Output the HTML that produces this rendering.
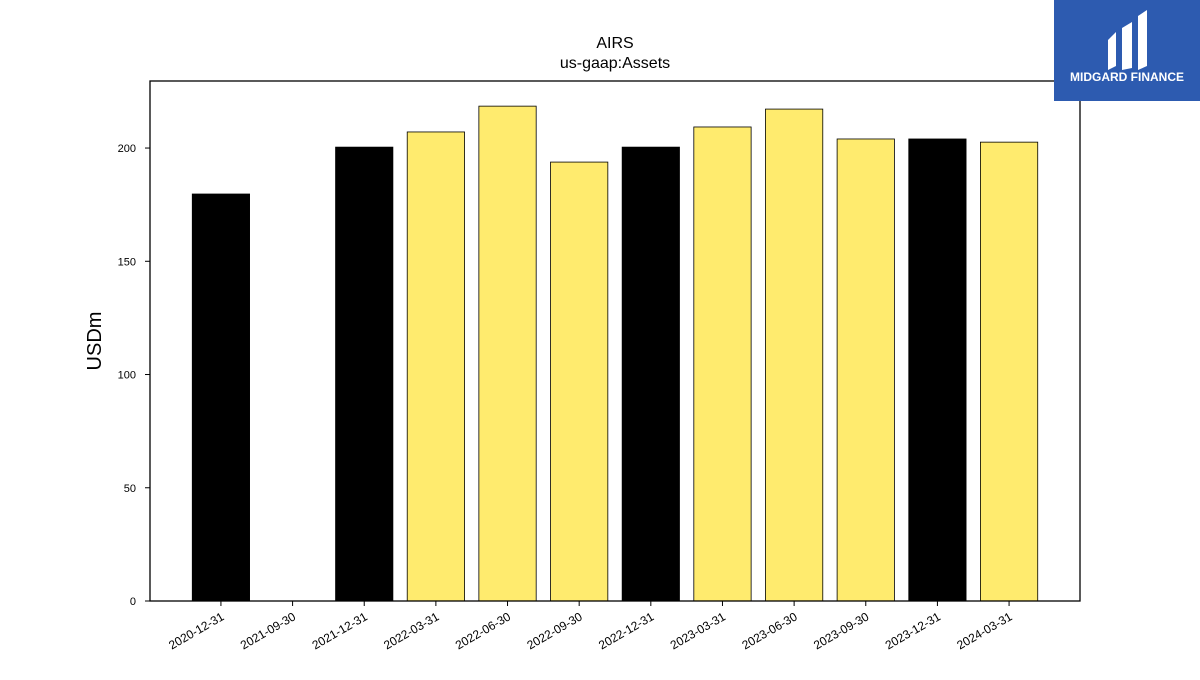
<!DOCTYPE html>
<html><head><meta charset="utf-8"><style>
body{margin:0;background:#fff;}
svg text{font-family:"Liberation Sans","DejaVu Sans",sans-serif;}
</style></head><body>
<svg id="chart" width="1200" height="675" xmlns="http://www.w3.org/2000/svg">
<text x="615" y="48" text-anchor="middle" font-size="16">AIRS</text>
<text x="615" y="68" text-anchor="middle" font-size="16">us-gaap:Assets</text>
<text transform="translate(101,341) rotate(-90)" text-anchor="middle" font-size="20">USDm</text>
<g id="bars"></g><g id="axes"></g>
<g>
<rect x="1054" y="0" width="146" height="101" fill="#2d5bb0"/>
<path d="M1108,40 L1116,32 L1116,66 L1108,70 Z" fill="#fff"/>
<path d="M1122,28 L1132,22 L1132,68 L1122,70 Z" fill="#fff"/>
<path d="M1138,16 L1147,10 L1147,66 L1138,70 Z" fill="#fff"/>
<text x="1127" y="81" text-anchor="middle" font-size="12" font-weight="bold" fill="#fff">MIDGARD FINANCE</text>
</g>
</svg>
<script>
const categories=["2020-12-31","2021-09-30","2021-12-31","2022-03-31","2022-06-30","2022-09-30","2022-12-31","2023-03-31","2023-06-30","2023-09-30","2023-12-31","2024-03-31"];
const values=[179.7,0,200.4,207.1,218.5,193.8,200.4,209.3,217.2,204.0,204.0,202.6];
const yTicks=[0,50,100,150,200];
const NS="http://www.w3.org/2000/svg";
const L=150,R=1080,T=81,B=601,yMax=229.6;
const y=v=>B-(v/yMax)*(B-T);
const step=(R-L)/(categories.length+0.98);
const x=i=>L+step*(i+0.99);
const bw=step*0.8;
function mk(tag,attrs,parent){const e=document.createElementNS(NS,tag);for(const k in attrs)e.setAttribute(k,attrs[k]);parent.appendChild(e);return e;}
const bars=document.getElementById('bars'),axes=document.getElementById('axes');
categories.forEach((c,i)=>{
 const v=values[i];
 if(v>0){
  const r=mk('rect',{x:x(i)-bw/2,y:y(v),width:bw,height:B-y(v),fill:c.endsWith('12-31')?'#000':'#ffeb6e',stroke:'#000','stroke-width':0.8},bars);
  
  
 }
 const t=mk('line',{x1:x(i),x2:x(i),y1:B,y2:B+5,stroke:'#000','stroke-width':1},axes);
 
 
 const lb=mk('text',{transform:`translate(${x(i)+4},${B+18}) rotate(-30)`,'text-anchor':'end','font-size':12},axes);
 lb.textContent=c;
 
 
});
yTicks.forEach(v=>{
 const t=mk('line',{x1:L-5,x2:L,y1:y(v),y2:y(v),stroke:'#000','stroke-width':1},axes);
 
 
 const lb=mk('text',{x:L-14,y:y(v)+4,'text-anchor':'end','font-size':11},axes);
 lb.textContent=v;
 
 
});
const fr=mk('rect',{x:L,y:T,width:R-L,height:B-T,fill:'none',stroke:'#000','stroke-width':1.3},axes);


</script>
</body></html>
